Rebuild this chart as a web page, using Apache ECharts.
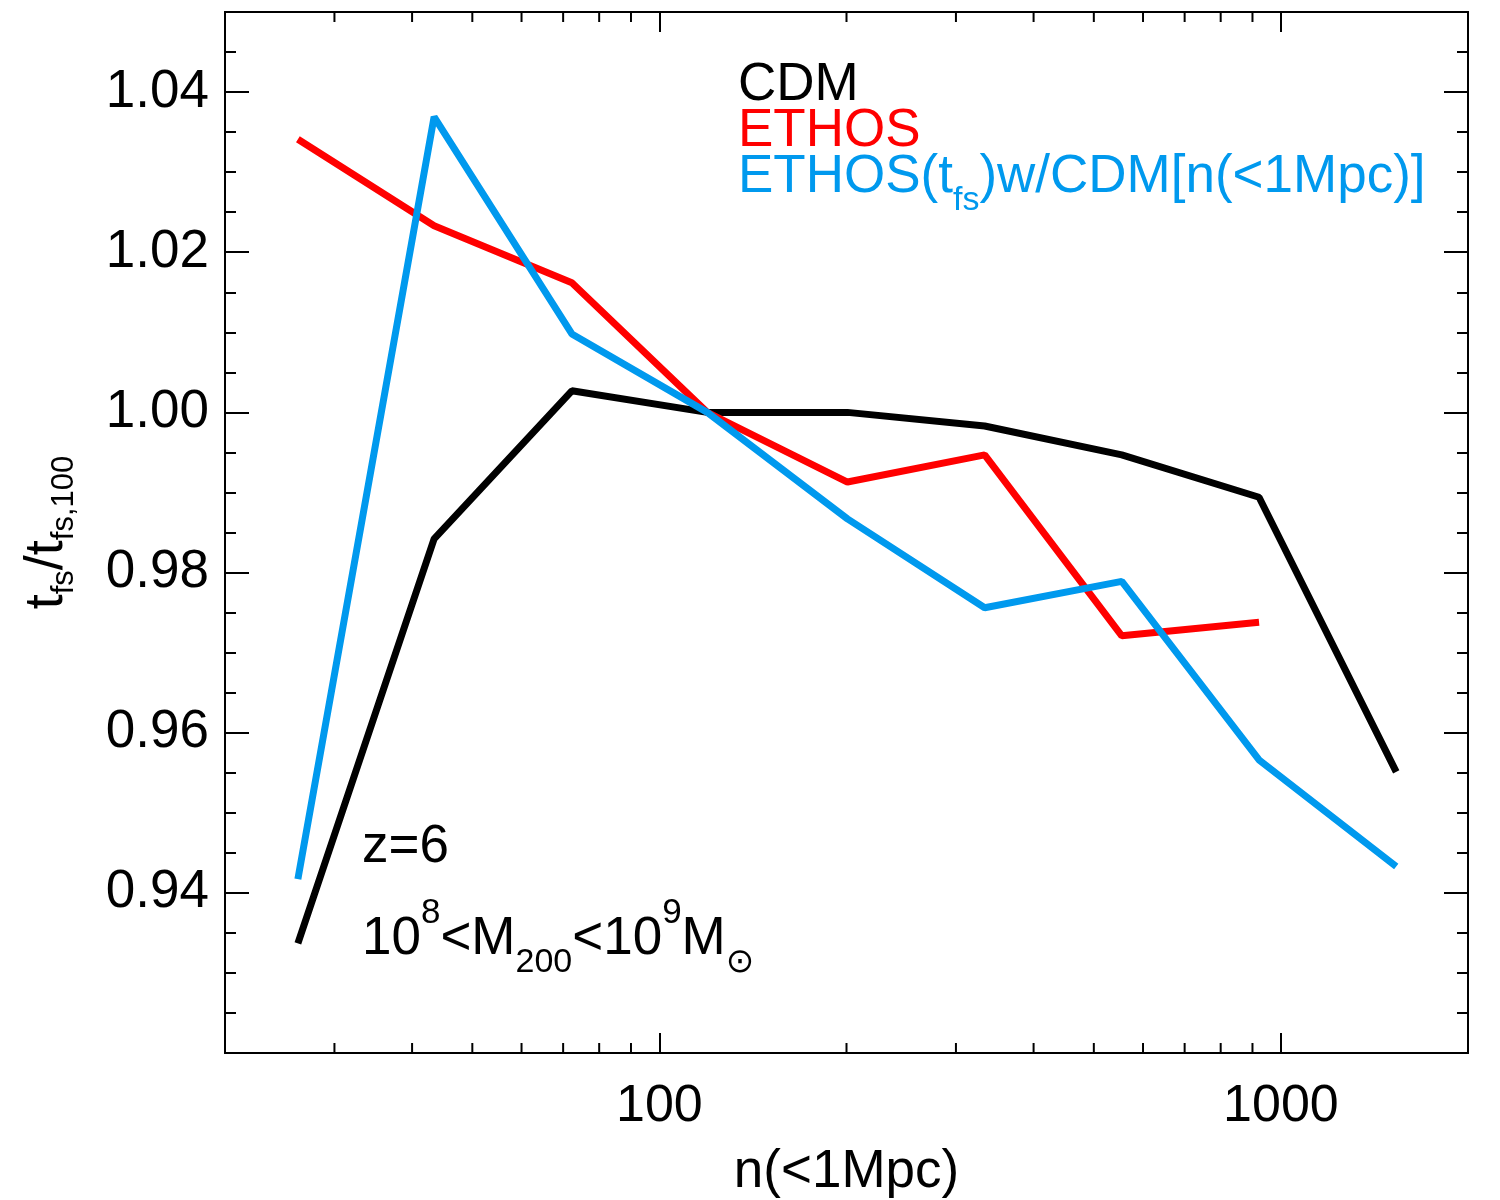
<!DOCTYPE html>
<html><head><meta charset="utf-8">
<script src="https://cdn.jsdelivr.net/npm/echarts@6/dist/echarts.min.js"></script>
<style>html,body{margin:0;padding:0;background:#fff}#c{width:1500px;height:1200px}</style>
</head><body><div id="c"></div>
<script>
// ---- data ----
const nValues  = [26.2, 43.4, 72.3, 119.4, 200.7, 333.7, 554.6, 922.2, 1533];
const cdm      = [0.9337, 0.9842, 1.0027, 1.0000, 1.0000, 0.9983, 0.9947, 0.9894, 0.9551];
const ethos    = [1.0341, 1.0233, 1.0162, 1.0000, 0.9913, 0.9947, 0.9721, 0.9738];
const ethosCdm = [0.9417, 1.0369, 1.0098, 1.0000, 0.9867, 0.9756, 0.9789, 0.9566, 0.9433];
const xMinorTicks = [30, 40, 50, 60, 70, 80, 90, 200, 300, 400, 500, 600, 700, 800, 900];
const xTickLabels = ['100', '1000'];
const yTickLabels = ['0.94', '0.96', '0.98', '1.00', '1.02', '1.04'];

const FF = '"Liberation Sans", Arial, Helvetica, "DejaVu Sans", sans-serif';
const X_MIN = 20, X_MAX = 2000, Y_MIN = 0.92, Y_MAX = 1.05;
const BLUE = '#0099ee';

const pair = (ys) => ys.map((y, i) => [nValues[i], y]);

const xLabelFmt = (v) => {
  const s = String(Math.round(v));
  return xTickLabels.indexOf(s) >= 0 && Math.abs(v - Math.round(v)) < 1e-6 ? s : '';
};
const yLabelFmt = (v) => {
  const s = v.toFixed(2);
  return (yTickLabels.indexOf(s) >= 0 && Math.abs(v - parseFloat(s)) < 1e-6) ? s : '';
};

const axisLineStyle = { color: '#000', width: 2 };
const tickLine = { color: '#000', width: 2 };

function yAx(pos, interval, len, withLabels) {
  const a = {
    type: 'value', position: pos, min: Y_MIN, max: Y_MAX, interval: interval,
    axisLine: { show: true, onZero: false, lineStyle: axisLineStyle },
    axisTick: { show: true, inside: true, length: len, lineStyle: tickLine },
    axisLabel: { show: false },
    splitLine: { show: false }
  };
  if (withLabels) {
    a.axisLabel = { show: true, formatter: yLabelFmt, fontSize: 53, fontFamily: FF, color: '#000', margin: 16 };
    a.name = '{m|t}{s|fs}{m|/t}{s|fs,100}';
    a.nameLocation = 'middle';
    a.nameRotate = 90;
    a.nameGap = 148;
    a.nameTextStyle = {
      fontFamily: FF, fontSize: 54, color: '#000', lineHeight: 60,
      rich: {
        m: { fontFamily: FF, fontSize: 54, color: '#000', lineHeight: 60 },
        s: { fontFamily: FF, fontSize: 31, color: '#000', height: 25, lineHeight: 25, verticalAlign: 'bottom' }
      }
    };
  }
  return a;
}

function richStyles(color) {
  return {
    m: { fontFamily: FF, fontSize: 53, fill: color, lineHeight: 60 },
    p: { fontFamily: FF, fontSize: 35, fill: color, height: 8, lineHeight: 8, verticalAlign: 'top' },
    b: { fontFamily: FF, fontSize: 34, fill: color, height: 12, lineHeight: 12, verticalAlign: 'bottom' }
  };
}
function txt(x, y, text, color) {
  return {
    type: 'text', x: x, y: y, z: 100,
    style: { text: text, fill: color, fontFamily: FF, fontSize: 53, lineHeight: 60,
             align: 'left', verticalAlign: 'top', rich: richStyles(color) }
  };
}

const chart = echarts.init(document.getElementById('c'), null, { renderer: 'canvas' });
chart.setOption({
  animation: false,
  backgroundColor: '#fff',
  grid: { left: 225, right: 32, top: 12, bottom: 147, containLabel: false, outerBoundsMode: 'none' },
  xAxis: [
    {
      type: 'log', logBase: 10, min: X_MIN, max: X_MAX, position: 'bottom',
      axisLine: { show: true, onZero: false, lineStyle: axisLineStyle },
      axisTick: { show: true, inside: true, length: 20, lineStyle: tickLine },
      axisLabel: { formatter: xLabelFmt, fontSize: 52, fontFamily: FF, color: '#000', margin: 24, lineHeight: 60 },
      splitLine: { show: false },
      name: 'n(<1Mpc)', nameLocation: 'middle', nameGap: 87,
      nameTextStyle: { fontFamily: FF, fontSize: 53, color: '#000', lineHeight: 60 }
    },
    {
      type: 'log', logBase: 10, min: X_MIN, max: X_MAX, position: 'top',
      axisLine: { show: true, onZero: false, lineStyle: axisLineStyle },
      axisTick: { show: true, inside: true, length: 20, lineStyle: tickLine },
      axisLabel: { show: false },
      splitLine: { show: false }
    }
  ],
  yAxis: [
    yAx('left', 0.02, 24, true),
    yAx('left', 0.005, 11, false),
    yAx('right', 0.02, 24, false),
    yAx('right', 0.005, 11, false)
  ],
  series: [
    {
      type: 'custom', name: 'minorTicks', xAxisIndex: 0, yAxisIndex: 0, clip: false, silent: true, z: 5,
      data: xMinorTicks.map(v => [v, Y_MIN]),
      renderItem: function (params, api) {
        const v = api.value(0);
        const b = api.coord([v, Y_MIN]);
        const t = api.coord([v, Y_MAX]);
        return {
          type: 'group',
          children: [
            { type: 'line', shape: { x1: b[0], y1: b[1], x2: b[0], y2: b[1] - 10 }, style: { stroke: '#000', lineWidth: 2 } },
            { type: 'line', shape: { x1: t[0], y1: t[1], x2: t[0], y2: t[1] + 10 }, style: { stroke: '#000', lineWidth: 2 } }
          ]
        };
      }
    },
    { type: 'line', name: 'CDM', data: pair(cdm), showSymbol: false, lineStyle: { color: '#000', width: 7 }, itemStyle: { color: '#000' }, z: 3 },
    { type: 'line', name: 'ETHOS', data: pair(ethos), showSymbol: false, lineStyle: { color: '#ff0000', width: 7 }, itemStyle: { color: '#ff0000' }, z: 3 },
    { type: 'line', name: 'ETHOS(tfs)w/CDM', data: pair(ethosCdm), showSymbol: false, lineStyle: { color: BLUE, width: 7 }, itemStyle: { color: BLUE }, z: 3 }
  ],
  graphic: [
    txt(738, 55, '{m|CDM}', '#000'),
    txt(738, 101, '{m|ETHOS}', '#ff0000'),
    txt(738, 147, '{m|ETHOS(t}{b|fs}{m|)w/CDM[n(<1Mpc)]}', BLUE),
    txt(362, 817, '{m|z=6}', '#000'),
    txt(362, 909, '{m|10}{p|8}{m|<M}{b|200}{m|<10}{p|9}{m|M}{b|⊙}', '#000')
  ]
});
</script>
</body></html>
